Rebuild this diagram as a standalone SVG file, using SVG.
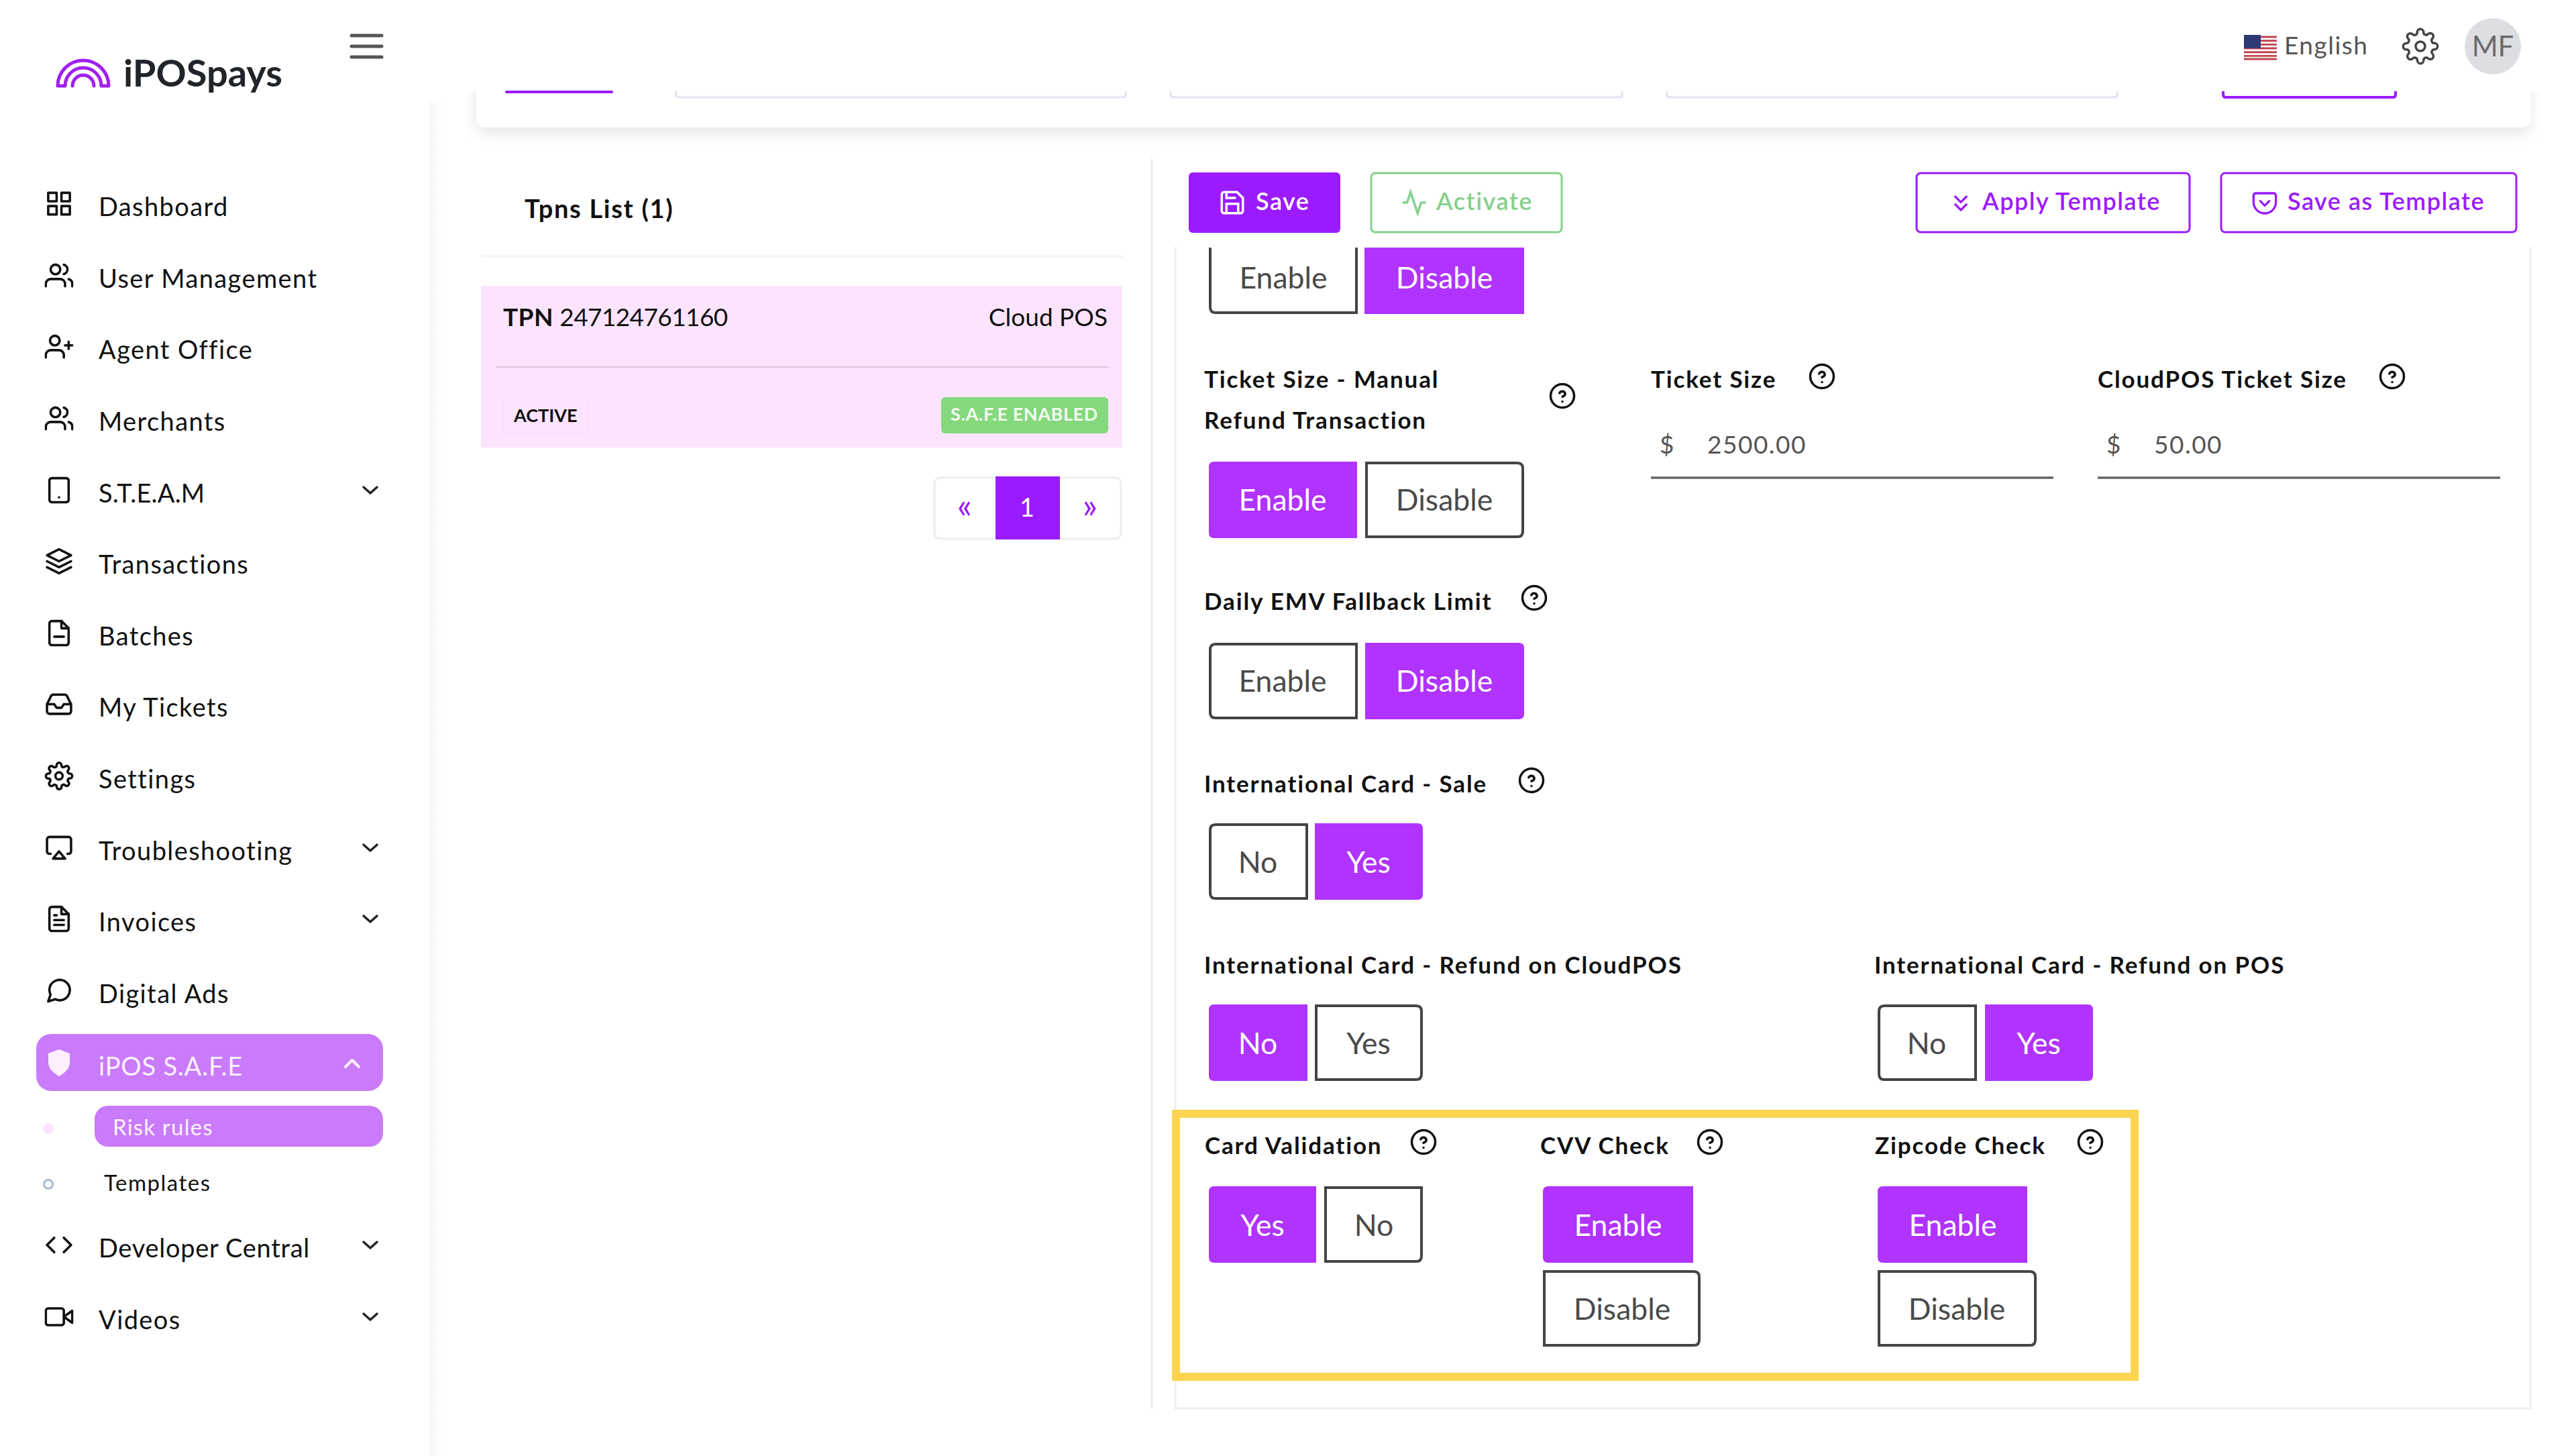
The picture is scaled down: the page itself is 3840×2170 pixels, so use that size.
<svg xmlns="http://www.w3.org/2000/svg" width="3840" height="2170" viewBox="0 0 3840 2170">
<style>
text{font-family:"Lato","Noto Sans","Liberation Sans",sans-serif}
.nav{font-size:38px;fill:#111;letter-spacing:1.4px}
.ic{fill:none;stroke:#111;stroke-width:2;stroke-linecap:round;stroke-linejoin:round}
.lb{font-size:35px;font-weight:700;fill:#111;letter-spacing:1.85px}
.bt{font-size:44.500px;fill:#fff;text-anchor:middle}
.bo{font-size:44.500px;fill:#4a4a4a;text-anchor:middle}
.on{fill:#b033ff}
.off{fill:#fff;stroke:#444;stroke-width:4}
.tb{font-size:36px;font-weight:600;fill:#9a1bff;letter-spacing:1.500px}
.pu{fill:none;stroke:#9a1bff;stroke-width:2;stroke-linecap:round;stroke-linejoin:round}
.q{fill:none;stroke:#111;stroke-width:2;stroke-linecap:round;stroke-linejoin:round}
.chev{fill:none;stroke:#222;stroke-width:3.500;stroke-linecap:round;stroke-linejoin:round}
.field{font-size:37px;fill:#555;letter-spacing:1.500px}
.ul{stroke:#666;stroke-width:3.500}
.inp{fill:none;stroke:#e4e2f0;stroke-width:3}
</style>
<defs>
<linearGradient id="sb" x1="0" x2="1" y1="0" y2="0"><stop offset="0" stop-color="#f7f7f8"/><stop offset="1" stop-color="#fff"/></linearGradient>
<filter id="sh" x="-5%" y="-20%" width="110%" height="150%"><feDropShadow dx="0" dy="8" stdDeviation="10" flood-color="#000" flood-opacity=".1"/></filter>
<symbol id="i-grid" viewBox="0 0 24 24"><rect x="3" y="3" width="7" height="7"/><rect x="14" y="3" width="7" height="7"/><rect x="14" y="14" width="7" height="7"/><rect x="3" y="14" width="7" height="7"/></symbol>
<symbol id="i-users" viewBox="0 0 24 24"><path d="M17 21v-2a4 4 0 0 0-4-4H5a4 4 0 0 0-4 4v2"/><circle cx="9" cy="7" r="4"/><path d="M23 21v-2a4 4 0 0 0-3-3.87"/><path d="M16 3.13a4 4 0 0 1 0 7.75"/></symbol>
<symbol id="i-plus" viewBox="0 0 24 24"><path d="M16 21v-2a4 4 0 0 0-4-4H5a4 4 0 0 0-4 4v2"/><circle cx="8.5" cy="7" r="4"/><path d="M20 8v6M23 11h-6"/></symbol>
<symbol id="i-phone" viewBox="0 0 24 24"><rect x="4" y="2" width="16" height="20" rx="2"/><path d="M12 18h.01"/></symbol>
<symbol id="i-layers" viewBox="0 0 24 24"><path d="M12 2 2 7l10 5 10-5z"/><path d="M2 17l10 5 10-5"/><path d="M2 12l10 5 10-5"/></symbol>
<symbol id="i-file" viewBox="0 0 24 24"><path d="M14 2H6a2 2 0 0 0-2 2v16a2 2 0 0 0 2 2h12a2 2 0 0 0 2-2V8z"/><path d="M14 2v6h6M8 15h8"/></symbol>
<symbol id="i-doc" viewBox="0 0 24 24"><path d="M14 2H6a2 2 0 0 0-2 2v16a2 2 0 0 0 2 2h12a2 2 0 0 0 2-2V8z"/><path d="M14 2v6h6M16 13H8M16 17H8M10 9H8"/></symbol>
<symbol id="i-inbox" viewBox="0 0 24 24"><path d="M22 12h-6l-2 3h-4l-2-3H2"/><path d="M5.45 5.11 2 12v6a2 2 0 0 0 2 2h16a2 2 0 0 0 2-2v-6l-3.45-6.89A2 2 0 0 0 16.76 4H7.24a2 2 0 0 0-1.79 1.11z"/></symbol>
<symbol id="i-gear" viewBox="0 0 24 24"><circle cx="12" cy="12" r="3"/><path d="M19.4 15a1.65 1.65 0 0 0 .33 1.82l.06.06a2 2 0 0 1 0 2.83 2 2 0 0 1-2.83 0l-.06-.06a1.65 1.65 0 0 0-1.82-.33 1.65 1.65 0 0 0-1 1.51V21a2 2 0 0 1-2 2 2 2 0 0 1-2-2v-.09A1.65 1.65 0 0 0 9 19.4a1.65 1.65 0 0 0-1.82.33l-.06.06a2 2 0 0 1-2.83 0 2 2 0 0 1 0-2.83l.06-.06a1.65 1.65 0 0 0 .33-1.82 1.65 1.65 0 0 0-1.51-1H3a2 2 0 0 1-2-2 2 2 0 0 1 2-2h.09A1.65 1.65 0 0 0 4.6 9a1.65 1.65 0 0 0-.33-1.82l-.06-.06a2 2 0 0 1 0-2.83 2 2 0 0 1 2.83 0l.06.06a1.65 1.65 0 0 0 1.82.33H9a1.65 1.65 0 0 0 1-1.51V3a2 2 0 0 1 2-2 2 2 0 0 1 2 2v.09a1.65 1.65 0 0 0 1 1.51 1.65 1.65 0 0 0 1.82-.33l.06-.06a2 2 0 0 1 2.83 0 2 2 0 0 1 0 2.83l-.06.06a1.65 1.65 0 0 0-.33 1.82V9a1.65 1.65 0 0 0 1.51 1H21a2 2 0 0 1 2 2 2 2 0 0 1-2 2h-.09a1.65 1.65 0 0 0-1.51 1z"/></symbol>
<symbol id="i-air" viewBox="0 0 24 24"><path d="M5 17H4a2 2 0 0 1-2-2V5a2 2 0 0 1 2-2h16a2 2 0 0 1 2 2v10a2 2 0 0 1-2 2h-1"/><path d="M12 15l5 6H7z"/></symbol>
<symbol id="i-msg" viewBox="0 0 24 24"><path d="M21 11.5a8.38 8.38 0 0 1-.9 3.8 8.5 8.5 0 0 1-7.6 4.7 8.38 8.38 0 0 1-3.8-.9L3 21l1.9-5.7a8.38 8.38 0 0 1-.9-3.8 8.5 8.5 0 0 1 4.7-7.6 8.38 8.38 0 0 1 3.8-.9h.5a8.48 8.48 0 0 1 8 8v.5z"/></symbol>
<symbol id="i-code" viewBox="0 0 24 24"><path d="M16 18l6-6-6-6M8 6l-6 6 6 6"/></symbol>
<symbol id="i-video" viewBox="0 0 24 24"><path d="M23 7l-7 5 7 5z"/><rect x="1" y="5" width="15" height="14" rx="2"/></symbol>
<symbol id="i-save" viewBox="0 0 24 24"><path d="M19 21H5a2 2 0 0 1-2-2V5a2 2 0 0 1 2-2h11l5 5v11a2 2 0 0 1-2 2z"/><path d="M17 21v-8H7v8M7 3v5h8"/></symbol>
<symbol id="i-act" viewBox="0 0 24 24"><path d="M22 12h-4l-3 9L9 3l-3 9H2"/></symbol>
<symbol id="i-dbl" viewBox="0 0 24 24"><path d="M7 13l5 5 5-5M7 6l5 5 5-5"/></symbol>
<symbol id="i-shc" viewBox="0 0 24 24"><path d="M4 3h16a2 2 0 0 1 2 2v6a10 10 0 0 1-20 0V5a2 2 0 0 1 2-2z"/><path d="M8 10l4 4 4-4"/></symbol>
<symbol id="i-q" viewBox="0 0 24 24"><circle cx="12" cy="12" r="10"/><path d="M9.600 9.700a2.500 2.500 0 0 1 4.800.6c0 1.600-2.400 2.400-2.400 2.400M12 16.800h.01"/></symbol>
</defs>

<rect width="3840" height="2170" fill="#fff"/>

<g id="content-bg">
<rect x="640" y="150" width="20" height="2020" fill="url(#sb)"/>
<rect x="710" y="80" width="3062" height="110" rx="12" fill="#fff" filter="url(#sh)"/>
<rect x="640" y="0" width="3200" height="136" fill="#fff"/>
<path class="inp" d="M1008 136v6q0 3 3 3h664q3 0 3-3v-6M1745 136v6q0 3 3 3h667q3 0 3-3v-6M2485 136v6q0 3 3 3h665q3 0 3-3v-6"/>
<path d="M755 137h157" stroke="#9a1bff" stroke-width="4" stroke-linecap="round"/>
<path d="M3314 136v5q0 4 4 4h249q4 0 4-4v-5" fill="none" stroke="#9a1bff" stroke-width="4"/>
<path d="M1717 236V2100" stroke="#eee" stroke-width="3"/>
<path d="M1752 368V2099H3772V368" fill="none" stroke="#eee" stroke-width="3"/>
</g>

<g id="logo">
<path d="M86 128a38 38 0 0 1 76 0h-11a27 27 0 0 0-54 0z" fill="none" stroke="#a020f0" stroke-width="5" stroke-linejoin="round"/>
<path d="M108 128a16 16 0 0 1 32 0" fill="none" stroke="#a020f0" stroke-width="5" stroke-linecap="round"/>
<text x="184" y="129" font-size="56" font-weight="700" fill="#212529">iPOSpays</text>
</g>
<path id="menu" d="M524 53h45M524 69h45M524 85h45" stroke="#555" stroke-width="5" stroke-linecap="round"/>

<g id="nav">
<g id="nav-dashboard"><use href="#i-grid" class="ic" x="66.500" y="282" width="43" height="43"/><text class="nav" x="147" y="322">Dashboard</text></g>
<g id="nav-users"><use href="#i-users" class="ic" x="66.500" y="389" width="43" height="43"/><text class="nav" x="147" y="429">User Management</text></g>
<g id="nav-agent"><use href="#i-plus" class="ic" x="66.500" y="495" width="43" height="43"/><text class="nav" x="147" y="535">Agent Office</text></g>
<g id="nav-merchants"><use href="#i-users" class="ic" x="66.500" y="602" width="43" height="43"/><text class="nav" x="147" y="642">Merchants</text></g>
<g id="nav-steam"><use href="#i-phone" class="ic" x="66.500" y="709" width="43" height="43"/><text class="nav" x="147" y="749" style="letter-spacing:.2px">S.T.E.A.M</text><path class="chev" d="M542 726l10 9 10-9"/></g>
<g id="nav-transactions"><use href="#i-layers" class="ic" x="66.500" y="815" width="43" height="43"/><text class="nav" x="147" y="855">Transactions</text></g>
<g id="nav-batches"><use href="#i-file" class="ic" x="66.500" y="922" width="43" height="43"/><text class="nav" x="147" y="962">Batches</text></g>
<g id="nav-tickets"><use href="#i-inbox" class="ic" x="66.500" y="1028" width="43" height="43"/><text class="nav" x="147" y="1068">My Tickets</text></g>
<g id="nav-settings"><use href="#i-gear" class="ic" x="66.500" y="1135" width="43" height="43"/><text class="nav" x="147" y="1175">Settings</text></g>
<g id="nav-trouble"><use href="#i-air" class="ic" x="66.500" y="1242" width="43" height="43"/><text class="nav" x="147" y="1282">Troubleshooting</text><path class="chev" d="M542 1259l10 9 10-9"/></g>
<g id="nav-invoices"><use href="#i-doc" class="ic" x="66.500" y="1348" width="43" height="43"/><text class="nav" x="147" y="1388">Invoices</text><path class="chev" d="M542 1365l10 9 10-9"/></g>
<g id="nav-ads"><use href="#i-msg" class="ic" x="66.500" y="1455" width="43" height="43"/><text class="nav" x="147" y="1495">Digital Ads</text></g>
<g id="nav-safe"><rect x="54" y="1541" width="517" height="85" rx="22" fill="#c97bfb"/><path d="M88 1604s16-8 16-20v-14l-16-6-16 6v14c0 12 16 20 16 20z" fill="#fdeffe"/><text class="nav" x="147" y="1603" style="fill:#fdf2fe;letter-spacing:.8px">iPOS S.A.F.E</text><path d="M515 1590l10-10 10 10" fill="none" stroke="#fdf2fe" stroke-width="4" stroke-linecap="round" stroke-linejoin="round"/></g>
<g id="nav-risk"><circle cx="72" cy="1682" r="8" fill="#fbe3fb"/><rect x="141" y="1648" width="430" height="61" rx="20" fill="#c97bfb"/><text x="168" y="1692" font-size="33" fill="#fdf2fe" letter-spacing="1.200">Risk rules</text></g>
<g id="nav-templates"><circle cx="72" cy="1765" r="6.500" fill="none" stroke="#a9b8cc" stroke-width="3"/><text x="155" y="1775" font-size="33" fill="#111" letter-spacing="1.500">Templates</text></g>
<g id="nav-dev"><use href="#i-code" class="ic" x="66.500" y="1834" width="43" height="43"/><text class="nav" x="147" y="1874" style="letter-spacing:.7px">Developer Central</text><path class="chev" d="M542 1851l10 9 10-9"/></g>
<g id="nav-videos"><use href="#i-video" class="ic" x="66.500" y="1941" width="43" height="43"/><text class="nav" x="147" y="1981">Videos</text><path class="chev" d="M542 1958l10 9 10-9"/></g>
</g>

<g id="topbar">
<g id="flag"><rect x="3345" y="52" width="49" height="37" fill="#fff"/><path d="M3345 55h49M3345 60.700h49M3345 66.400h49M3345 72h49M3345 77.700h49M3345 83.400h49M3345 88h49" stroke="#c0444f" stroke-width="2.900"/><rect x="3345" y="52" width="25" height="20" fill="#2f3a75"/></g>
<text x="3405" y="81" font-size="37" fill="#555" letter-spacing="1.500">English</text>
<use href="#i-gear" x="3580" y="41" width="56" height="56" fill="none" stroke="#444" stroke-width="1.500"/>
<circle cx="3716" cy="69" r="42" fill="#dcdee2"/>
<text x="3716" y="84" font-size="42" fill="#6b6b6b" text-anchor="middle">MF</text>
</g>

<g id="tpn-list">
<text x="782" y="325" font-size="38" font-weight="700" fill="#111" letter-spacing="1.700">Tpns List (1)</text>
<path d="M718 382h956" stroke="#f3f3f3" stroke-width="3"/>
<rect x="717" y="426" width="956" height="241" fill="#fce4fe"/>
<text x="750" y="486" font-size="37" fill="#111"><tspan font-weight="700" letter-spacing=".4">TPN</tspan> <tspan letter-spacing="-.6">247124761160</tspan></text>
<text x="1651" y="486" font-size="37" fill="#111" text-anchor="end">Cloud POS</text>
<path d="M739 547h913" stroke="#e2c9e8" stroke-width="3"/>
<rect x="750" y="593" width="127" height="52" rx="6" fill="none" stroke="#f7e0fa" stroke-width="2"/>
<text x="766" y="629" font-size="27" font-weight="700" fill="#111">ACTIVE</text>
<rect x="1403" y="592" width="249" height="54" rx="6" fill="#85d87c"/>
<text x="1527" y="627" font-size="27" font-weight="700" fill="#f2fbf1" text-anchor="middle" letter-spacing=".6">S.A.F.E ENABLED</text>
<rect x="1393" y="712" width="278" height="91" rx="8" fill="#fff" stroke="#eee" stroke-width="3"/>
<rect x="1484" y="710" width="96" height="94" fill="#9a1bff"/>
<text x="1438" y="772" font-size="52" fill="#9a1bff" text-anchor="middle">«</text>
<text x="1531" y="770" font-size="38" fill="#fff" text-anchor="middle">1</text>
<text x="1625" y="772" font-size="52" fill="#9a1bff" text-anchor="middle">»</text>
</g>

<g id="toolbar">
<g id="btn-save"><rect x="1772" y="257" width="226" height="90" rx="6" fill="#9a1bff"/><use href="#i-save" x="1816" y="281" width="42" height="42" fill="none" stroke="#fff" stroke-width="2"/><text class="tb" x="1872" y="313" style="fill:#fff">Save</text></g>
<g id="btn-activate"><rect x="2044" y="258" width="284" height="88" rx="6" fill="#fff" stroke="#85d08c" stroke-width="3"/><use href="#i-act" x="2087" y="281" width="42" height="42" fill="none" stroke="#85d08c" stroke-width="2"/><text class="tb" x="2141" y="313" style="fill:#85d08c">Activate</text></g>
<g id="btn-apply"><rect x="2857" y="258" width="407" height="88" rx="6" fill="#fff" stroke="#9a1bff" stroke-width="3"/><use href="#i-dbl" class="pu" x="2903" y="283" width="40" height="40"/><text class="tb" x="2955" y="313">Apply Template</text></g>
<g id="btn-savetpl"><rect x="3311" y="258" width="440" height="88" rx="6" fill="#fff" stroke="#9a1bff" stroke-width="3"/><use href="#i-shc" class="pu" x="3356" y="283" width="40" height="40"/><text class="tb" x="3410" y="313">Save as Template</text></g>
</g>

<g id="row-top">
<path class="off" d="M1804 369V458q0 8 8 8H2022V369"/><text class="bo" x="1913" y="430">Enable</text>
<path class="on" d="M2034 369H2272V468H2034z"/><text class="bt" x="2153" y="430">Disable</text>
</g>

<g id="row-ticket">
<text class="lb" x="1795" y="578">Ticket Size - Manual</text>
<text class="lb" x="1795" y="639">Refund Transaction</text>
<use href="#i-q" class="q" x="2308" y="569" width="42" height="42"/>
<path class="on" d="M1810 688H2023V802H1810q-8 0-8-8V696q0-8 8-8z"/><text class="bt" x="1912" y="761">Enable</text>
<path class="off" d="M2037 690H2262q8 0 8 8V792q0 8-8 8H2037z"/><text class="bo" x="2153" y="761">Disable</text>
<text class="lb" x="2461" y="578">Ticket Size</text>
<use href="#i-q" class="q" x="2695" y="540" width="42" height="42"/>
<text class="field" x="2474" y="676">$</text><text class="field" x="2545" y="676">2500.00</text>
<path class="ul" d="M2461 712H3061"/>
<text class="lb" x="3127" y="578">CloudPOS Ticket Size</text>
<use href="#i-q" class="q" x="3545" y="540" width="42" height="42"/>
<text class="field" x="3140" y="676">$</text><text class="field" x="3211" y="676">50.00</text>
<path class="ul" d="M3127 712H3727"/>
</g>

<g id="row-emv">
<text class="lb" x="1795" y="909">Daily EMV Fallback Limit</text>
<use href="#i-q" class="q" x="2266" y="870" width="42" height="42"/>
<path class="off" d="M1812 960H2022V1070H1812q-8 0-8-8V968q0-8 8-8z"/><text class="bo" x="1912" y="1031">Enable</text>
<path class="on" d="M2035 958H2264q8 0 8 8V1064q0 8-8 8H2035z"/><text class="bt" x="2153" y="1031">Disable</text>
</g>

<g id="row-sale">
<text class="lb" x="1795" y="1181">International Card - Sale</text>
<use href="#i-q" class="q" x="2262" y="1142" width="42" height="42"/>
<path class="off" d="M1812 1229H1948V1339H1812q-8 0-8-8V1237q0-8 8-8z"/><text class="bo" x="1875" y="1301">No</text>
<path class="on" d="M1960 1227H2113q8 0 8 8V1333q0 8-8 8H1960z"/><text class="bt" x="2040" y="1301">Yes</text>
</g>

<g id="row-refund">
<text class="lb" x="1795" y="1451">International Card - Refund on CloudPOS</text>
<path class="on" d="M1810 1497H1949V1611H1810q-8 0-8-8V1505q0-8 8-8z"/><text class="bt" x="1875" y="1571">No</text>
<path class="off" d="M1962 1499H2111q8 0 8 8V1601q0 8-8 8H1962z"/><text class="bo" x="2040" y="1571">Yes</text>
<text class="lb" x="2794" y="1451">International Card - Refund on POS</text>
<path class="off" d="M2809 1499H2945V1609H2809q-8 0-8-8V1507q0-8 8-8z"/><text class="bo" x="2872" y="1571">No</text>
<path class="on" d="M2959 1497H3112q8 0 8 8V1603q0 8-8 8H2959z"/><text class="bt" x="3039" y="1571">Yes</text>
</g>

<g id="row-checks">
<text class="lb" x="1796" y="1720">Card Validation</text>
<use href="#i-q" class="q" x="2101" y="1681" width="42" height="42"/>
<path class="on" d="M1810 1768H1962V1882H1810q-8 0-8-8V1776q0-8 8-8z"/><text class="bt" x="1882" y="1842">Yes</text>
<path class="off" d="M1976 1770H2119V1872q0 8-8 8H1976z"/><text class="bo" x="2048" y="1842">No</text>
<text class="lb" x="2296" y="1720">CVV Check</text>
<use href="#i-q" class="q" x="2528" y="1681" width="42" height="42"/>
<path class="on" d="M2308 1768H2524V1882H2308q-8 0-8-8V1776q0-8 8-8z"/><text class="bt" x="2412" y="1842">Enable</text>
<path class="off" d="M2302 1895H2525q8 0 8 8V1997q0 8-8 8H2302z"/><text class="bo" x="2418" y="1967">Disable</text>
<text class="lb" x="2795" y="1720">Zipcode Check</text>
<use href="#i-q" class="q" x="3095" y="1681" width="42" height="42"/>
<path class="on" d="M2807 1768H3022V1882H2807q-8 0-8-8V1776q0-8 8-8z"/><text class="bt" x="2911" y="1842">Enable</text>
<path class="off" d="M2801 1895H3026q8 0 8 8V1997q0 8-8 8H2801z"/><text class="bo" x="2917" y="1967">Disable</text>
</g>

<rect id="highlight" x="1753" y="1660" width="1429" height="392" fill="none" stroke="#fdd44f" stroke-width="12"/>
</svg>
